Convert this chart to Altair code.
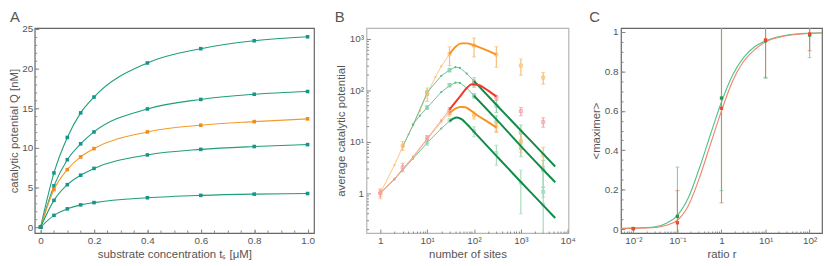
import altair as alt
import pandas as pd

FONT = "Liberation Sans"
TXT = "#555555"
TICK = "#888888"

# ---------------- Panel A data ----------------
A_t = [0, 0.05, 0.1, 0.15, 0.2, 0.4, 0.6, 0.8, 1.0]
A_q1 = [0, 6.83, 11.3, 14.4, 16.4, 20.7, 22.5, 23.5, 24.0]
A_q2 = [0, 5.2, 8.5, 10.5, 12.0, 14.9, 16.1, 16.75, 17.1]
A_q3 = [0, 4.73, 7.25, 8.85, 9.9, 12.0, 12.85, 13.3, 13.65]
A_q4 = [0, 3.37, 5.35, 6.54, 7.4, 9.1, 9.8, 10.16, 10.4]
A_q5 = [0, 1.48, 2.3, 2.8, 3.09, 3.7, 4.0, 4.16, 4.23]
A_line_colors = ["#1f9e7c", "#1f9e7c", "#f39c2b", "#1f9e7c", "#1f9e7c"]
A_pt_colors = ["#15958c", "#15958c", "#f08d18", "#15958c", "#15958c"]
A_x_major = [0, 0.2, 0.4, 0.6, 0.8, 1.0]
A_x_minor = [0, 0.05, 0.1, 0.15, 0.2, 0.25, 0.3, 0.35, 0.4, 0.45, 0.5, 0.55, 0.6,
             0.65, 0.7, 0.75, 0.8, 0.85, 0.9, 0.95, 1.0]
A_y_major = [0, 5, 10, 15, 20, 25]
A_y_minor = list(range(0, 26))

# ---------------- Panel B data ----------------
# thin simulation lines
B_thin_orange_x = [1, 2, 3, 4, 5, 7, 10, 15, 20, 30]
B_thin_orange_y = [1, 3.5, 8, 14, 21, 40, 85, 180, 290, 500]
B_thin_green1_x = [3, 5, 10, 20, 30, 40, 50, 70, 100]
B_thin_green1_y = [8, 21, 90, 190, 245, 280, 270, 210, 150]
B_thin_green2_x = [5, 7, 10, 20, 30, 40, 50, 70, 100]
B_thin_green2_y = [22, 32, 46, 92, 122, 140, 138, 110, 78]
B_thin_red_x = [1, 2, 3, 5, 10, 20, 30]
B_thin_red_y = [1, 1.9, 2.95, 5.1, 11.5, 26, 42]
B_thin_orange2_x = [1, 2, 3, 5, 10, 20, 30]
B_thin_orange2_y = [1, 1.9, 2.9, 4.9, 11, 24, 37]
B_thin_green3_x = [1, 2, 3, 5, 10, 20, 30]
B_thin_green3_y = [1, 1.85, 2.8, 4.7, 9.5, 18, 25]

# thick analytic curves
B_thick_orange1_x = [30, 40, 55, 70, 100, 200, 300]
B_thick_orange1_y = [500, 690, 810, 810, 740, 580, 490]
B_thick_red_x = [30, 50, 70, 90, 120, 200, 300]
B_thick_red_y = [42, 75, 110, 130, 127, 98, 75]
B_thick_orange2_x = [30, 40, 52, 65, 80, 100, 200, 300]
B_thick_orange2_y = [36, 44, 47, 46.5, 42, 36, 24, 19]
B_thick_green1_x = [100, 300, 1000, 3000, 5400]
B_thick_green1_y = [150, 52, 16.5, 5.8, 3.3]
B_thick_green2_x = [100, 300, 1000, 3000, 5400]
B_thick_green2_y = [78, 27, 8.2, 2.85, 1.63]
B_thick_green3_x = [30, 36, 43, 55, 70, 100, 300, 1000, 3000, 5400]
B_thick_green3_y = [25, 28, 29.5, 27, 22, 15.5, 5.3, 1.65, 0.58, 0.33]

# error-bar data (mean, +/- error)
B_N = [1, 3, 10, 30, 100, 300, 1000, 3000]
B_orange1_m = [1, 8.4, 85, 500, 735, 490, 300, 175]
B_orange1_e = [0.22, 1.7, 25, 200, 295, 210, 105, 45]
B_red_m = [1, 3.2, 11.7, 40, 132, 72, 39, 24]
B_red_e = [0.15, 0.6, 1.5, 6, 20, 8, 7, 5]
B_N2 = [30, 100, 300, 1000, 3000]
B_orange2_m = [36, 32.5, 19.5, 10.2, 5.5]
B_orange2_e = [5, 5, 4.5, 4, 2.3]
B_Ng = [10, 30, 100, 300, 1000, 3000]
B_green1_m = [90, 245, 148, 50, 15, 2.8]
B_green1_e = [10, 20, 27, 13, 6, 1.5]
B_green2_m = [46, 125, 78, 24, 7.5, 1.06]
B_green2_e = [4, 10, 8, 8, 2.4, 0.23]
B_green3_m = [9.5, 26, 16, 6, 1.6, 0.6]
B_green3_e = [1, 2, 3.5, 2.5, 1.2, 2.7]

B_x_major = [1, 10, 100, 1000, 10000]
B_x_minor = [m * d for d in [1, 10, 100, 1000] for m in range(2, 10)]
B_y_major = [1, 10, 100, 1000]
B_y_minor = [m * d for d in [0.1, 1, 10, 100, 1000] for m in range(2, 10)]

# ---------------- Panel C data ----------------
C_r_curve = [0.00525, 0.01, 0.0316, 0.0562, 0.1, 0.178, 0.316, 0.562, 1, 1.78,
             3.16, 5.62, 10, 31.6, 100, 190]
C_green_curve = [0.004, 0.005, 0.012, 0.03, 0.07, 0.16, 0.31, 0.48, 0.645, 0.78,
                 0.87, 0.925, 0.955, 0.985, 0.994, 0.996]
C_red_curve = [0.003, 0.004, 0.008, 0.02, 0.045, 0.12, 0.26, 0.43, 0.60, 0.75,
               0.85, 0.91, 0.95, 0.982, 0.993, 0.995]
C_r = [0.01, 0.1, 1, 10, 100]
C_green_m = [0.003, 0.065, 0.665, 0.955, 0.985]
C_green_e = [0.002, 0.25, 0.47, 0.19, 0.115]
C_red_m = [0.002, 0.032, 0.613, 0.96, 0.99]
C_red_e = [0.002, 0.163, 0.48, 0.19, 0.085]
C_x_major = [0.01, 0.1, 1, 10, 100]
C_x_minor = [m * d for d in [0.001, 0.01, 0.1, 1, 10, 100] for m in range(2, 10)]
C_y_major = [0, 0.2, 0.4, 0.6, 0.8, 1.0]
C_y_minor = [i / 20 for i in range(0, 21)]


def major_axis(values, expr, title, orient, tick=4, title_pad=3, label_pad=3):
    return alt.Axis(values=values, labelExpr=expr, title=title, orient=orient,
                    tickSize=tick, offset=-tick, domain=False, grid=False,
                    labelPadding=label_pad, labelOverlap=False, labelFlush=False,
                    titlePadding=title_pad)


def minor_axis(values, orient, tick=2):
    return alt.Axis(values=values, labels=False, title=None, orient=orient,
                    tickSize=tick, offset=-tick, domain=False, grid=False)


def letter(txt, dx):
    return alt.Chart(pd.DataFrame({"lab": [txt]})).mark_text(
        align="left", baseline="alphabetic", fontSize=15, font=FONT, color=TXT
    ).encode(x=alt.value(dx), y=alt.value(-6), text="lab:N")


# ================= Panel A =================
AX = alt.Scale(domain=[-0.022, 1.024], nice=False, zero=False)
AY = alt.Scale(domain=[-0.75, 25.1], nice=False, zero=False)
ax_major = major_axis(A_x_major, "datum.value == 0 ? '0' : format(datum.value, '.1f')",
                      "substrate concentration tₛ [μM]", "bottom")
ay_major = major_axis(A_y_major, "format(datum.value, 'd')",
                      "catalytic potential Q [nM]", "left", title_pad=2, label_pad=2)
ax_minor = minor_axis(A_x_minor, "bottom", 3)
ay_minor = minor_axis(A_y_minor, "left", 2)

A_layers = []
for i, (q, lc, pc) in enumerate(zip([A_q1, A_q2, A_q3, A_q4, A_q5], A_line_colors, A_pt_colors)):
    df = pd.DataFrame({"t": A_t, "q": q})
    xa = ax_major if i == 0 else None
    ya = ay_major if i == 0 else None
    line = alt.Chart(df).mark_line(interpolate="monotone", color=lc, strokeWidth=1.1).encode(
        x=alt.X("t:Q", scale=AX, axis=xa),
        y=alt.Y("q:Q", scale=AY, axis=ya),
    )
    xb = ax_minor if i == 0 else None
    yb = ay_minor if i == 0 else None
    pts = alt.Chart(df).mark_square(size=13, color=pc, opacity=1).encode(
        x=alt.X("t:Q", scale=AX, axis=xb),
        y=alt.Y("q:Q", scale=AY, axis=yb),
    )
    A_layers += [line, pts]
A_layers.append(letter("A", -25))
panelA = alt.layer(*A_layers).resolve_axis(x="independent", y="independent").properties(
    width=282, height=207, view=alt.ViewBackground(stroke="#666666", strokeWidth=1.2))

# ================= Panel B =================
BX = alt.Scale(type="log", domain=[0.506, 10400], nice=False)
BY = alt.Scale(type="log", domain=[0.168, 1607], nice=False)
b_lab_x = ("datum.value == 1 ? '1' : datum.value == 10 ? '10¹' : datum.value == 100 ? '10²' : "
           "datum.value == 1000 ? '10³' : '10⁴'")
b_lab_y = ("datum.value == 1 ? '1' : datum.value == 10 ? '10¹' : datum.value == 100 ? '10²' : '10³'")
bx_major = major_axis(B_x_major, b_lab_x, "number of sites", "bottom")
by_major = major_axis(B_y_major, b_lab_y, "average catalytic potential", "left")
bx_minor = minor_axis(B_x_minor, "bottom", 2)
by_minor = minor_axis(B_y_minor, "left", 2)

B_layers = []


def bx(axis=None):
    return alt.X("x:Q", scale=BX, axis=axis)


def by(axis=None):
    return alt.Y("y:Q", scale=BY, axis=axis)


thin = [
    (B_thin_orange_x, B_thin_orange_y, "#fbbf7c"),
    (B_thin_green1_x, B_thin_green1_y, "#5dbd8c"),
    (B_thin_green2_x, B_thin_green2_y, "#5dbd8c"),
    (B_thin_green3_x, B_thin_green3_y, "#5dbd8c"),
    (B_thin_orange2_x, B_thin_orange2_y, "#fbbf7c"),
    (B_thin_red_x, B_thin_red_y, "#f59a8c"),
]
for j, (xs, ys, c) in enumerate(thin):
    df = pd.DataFrame({"x": xs, "y": ys})
    B_layers.append(alt.Chart(df).mark_line(color=c, strokeWidth=0.9, clip=True).encode(
        x=bx(bx_major if j == 0 else None), y=by(by_major if j == 0 else None)))
    B_layers.append(alt.Chart(df).mark_circle(color=c, size=5, opacity=1, clip=True).encode(
        x=bx(bx_minor if j == 0 else None), y=by(by_minor if j == 0 else None)))

err = [
    (B_Ng, B_green1_m, B_green1_e, "#8fd2ad"),
    (B_Ng, B_green2_m, B_green2_e, "#8fd2ad"),
    (B_Ng, B_green3_m, B_green3_e, "#a6dcbd"),
    (B_N2, B_orange2_m, B_orange2_e, "#f9bd77"),
    (B_N, B_orange1_m, B_orange1_e, "#f9bd77"),
    (B_N, B_red_m, B_red_e, "#f4a0a0"),
]
for xs, ms, es, c in err:
    df = pd.DataFrame({"x": xs, "y": ms, "e": es})
    df["lo"] = (df["y"] - df["e"]).clip(lower=0.01)
    df["hi"] = df["y"] + df["e"]
    B_layers.append(alt.Chart(df).mark_rule(color=c, strokeWidth=1.2, clip=True).encode(
        x=bx(), y=alt.Y("lo:Q", scale=BY, axis=None), y2="hi:Q"))
    for col in ["lo", "hi"]:
        B_layers.append(alt.Chart(df).mark_tick(color=c, orient="horizontal", size=4,
                                                thickness=1, clip=True).encode(
            x=bx(), y=alt.Y(f"{col}:Q", scale=BY, axis=None)))
    B_layers.append(alt.Chart(df).mark_point(shape="square", filled=False, color=c, size=9,
                                             strokeWidth=0.9, opacity=1, clip=True).encode(
        x=bx(), y=by()))

thick = [
    (B_thick_green1_x, B_thick_green1_y, "#0f8c45"),
    (B_thick_green2_x, B_thick_green2_y, "#0f8c45"),
    (B_thick_green3_x, B_thick_green3_y, "#0f8c45"),
    (B_thick_orange1_x, B_thick_orange1_y, "#f7931e"),
    (B_thick_orange2_x, B_thick_orange2_y, "#f7931e"),
    (B_thick_red_x, B_thick_red_y, "#ec3a2a"),
]
for xs, ys, c in thick:
    df = pd.DataFrame({"x": xs, "y": ys})
    B_layers.append(alt.Chart(df).mark_line(color=c, strokeWidth=2.0, interpolate="monotone",
                                            clip=True).encode(x=bx(), y=by()))
B_layers.append(letter("B", -32))
panelB = alt.layer(*B_layers).resolve_axis(x="independent", y="independent").properties(
    width=204, height=207, view=alt.ViewBackground(stroke="#b5b5b5", strokeWidth=1.2))

# ================= Panel C =================
CX = alt.Scale(type="log", domain=[0.00524, 191], nice=False)
CY = alt.Scale(domain=[-0.02, 1.02], nice=False, zero=False)
c_lab_x = ("datum.value < 0.05 ? '10⁻²' : datum.value < 0.5 ? '10⁻¹' : datum.value < 5 ? '1' : "
           "datum.value < 50 ? '10¹' : '10²'")
c_lab_y = "datum.value == 0 ? '0' : datum.value == 1 ? '1' : format(datum.value, '.1f')"
cx_major = major_axis(C_x_major, c_lab_x, "ratio r", "bottom")
cy_major = major_axis(C_y_major, c_lab_y, "<maximer>", "left")
cx_minor = minor_axis(C_x_minor, "bottom", 2)
cy_minor = minor_axis(C_y_minor, "left", 2)

C_layers = []
curve_df_g = pd.DataFrame({"r": C_r_curve, "m": C_green_curve})
curve_df_r = pd.DataFrame({"r": C_r_curve, "m": C_red_curve})
for k, (ms, es, c) in enumerate([(C_green_m, C_green_e, "#72cc9c"), (C_red_m, C_red_e, "#e07a58")]):
    df = pd.DataFrame({"r": C_r, "m": ms, "e": es})
    df["lo"] = df["m"] - df["e"]
    df["hi"] = df["m"] + df["e"]
    C_layers.append(alt.Chart(df).mark_rule(color=c, strokeWidth=1.1, opacity=0.9, clip=True).encode(
        x=alt.X("r:Q", scale=CX, axis=cx_major if k == 0 else None),
        y=alt.Y("lo:Q", scale=CY, axis=cy_major if k == 0 else None), y2="hi:Q"))
    for col in ["lo", "hi"]:
        C_layers.append(alt.Chart(df).mark_tick(color=c, orient="horizontal", size=4,
                                                thickness=1, clip=True).encode(
            x=alt.X("r:Q", scale=CX, axis=cx_minor if (k == 0 and col == "lo") else None),
            y=alt.Y(f"{col}:Q", scale=CY, axis=cy_minor if (k == 0 and col == "lo") else None)))
C_layers.append(alt.Chart(curve_df_g).mark_line(color="#4cc38a", strokeWidth=1.1,
                                                interpolate="monotone", clip=True).encode(
    x=alt.X("r:Q", scale=CX, axis=None), y=alt.Y("m:Q", scale=CY, axis=None)))
C_layers.append(alt.Chart(curve_df_r).mark_line(color="#f2826a", strokeWidth=1.1,
                                                interpolate="monotone", clip=True).encode(
    x=alt.X("r:Q", scale=CX, axis=None), y=alt.Y("m:Q", scale=CY, axis=None)))
for ms, c in [(C_green_m, "#1e9a4e"), (C_red_m, "#ee4a2a")]:
    df = pd.DataFrame({"r": C_r, "m": ms})
    C_layers.append(alt.Chart(df).mark_square(color=c, size=11, opacity=1, clip=True).encode(
        x=alt.X("r:Q", scale=CX, axis=None), y=alt.Y("m:Q", scale=CY, axis=None)))
C_layers.append(letter("C", -32))
panelC = alt.layer(*C_layers).resolve_axis(x="independent", y="independent").properties(
    width=203, height=207, view=alt.ViewBackground(stroke="#666666", strokeWidth=1.2))

chart = alt.hconcat(panelA, panelB, panelC, spacing=53, bounds="flush").properties(
    padding=0
).configure_axis(
    labelFont=FONT, titleFont=FONT, labelColor=TXT, titleColor=TXT, tickColor=TICK,
    labelFontSize=10, titleFontSize=11.5, titleFontWeight="normal"
)

chart.save("out.html", embed_options={"renderer": "svg", "actions": False})
